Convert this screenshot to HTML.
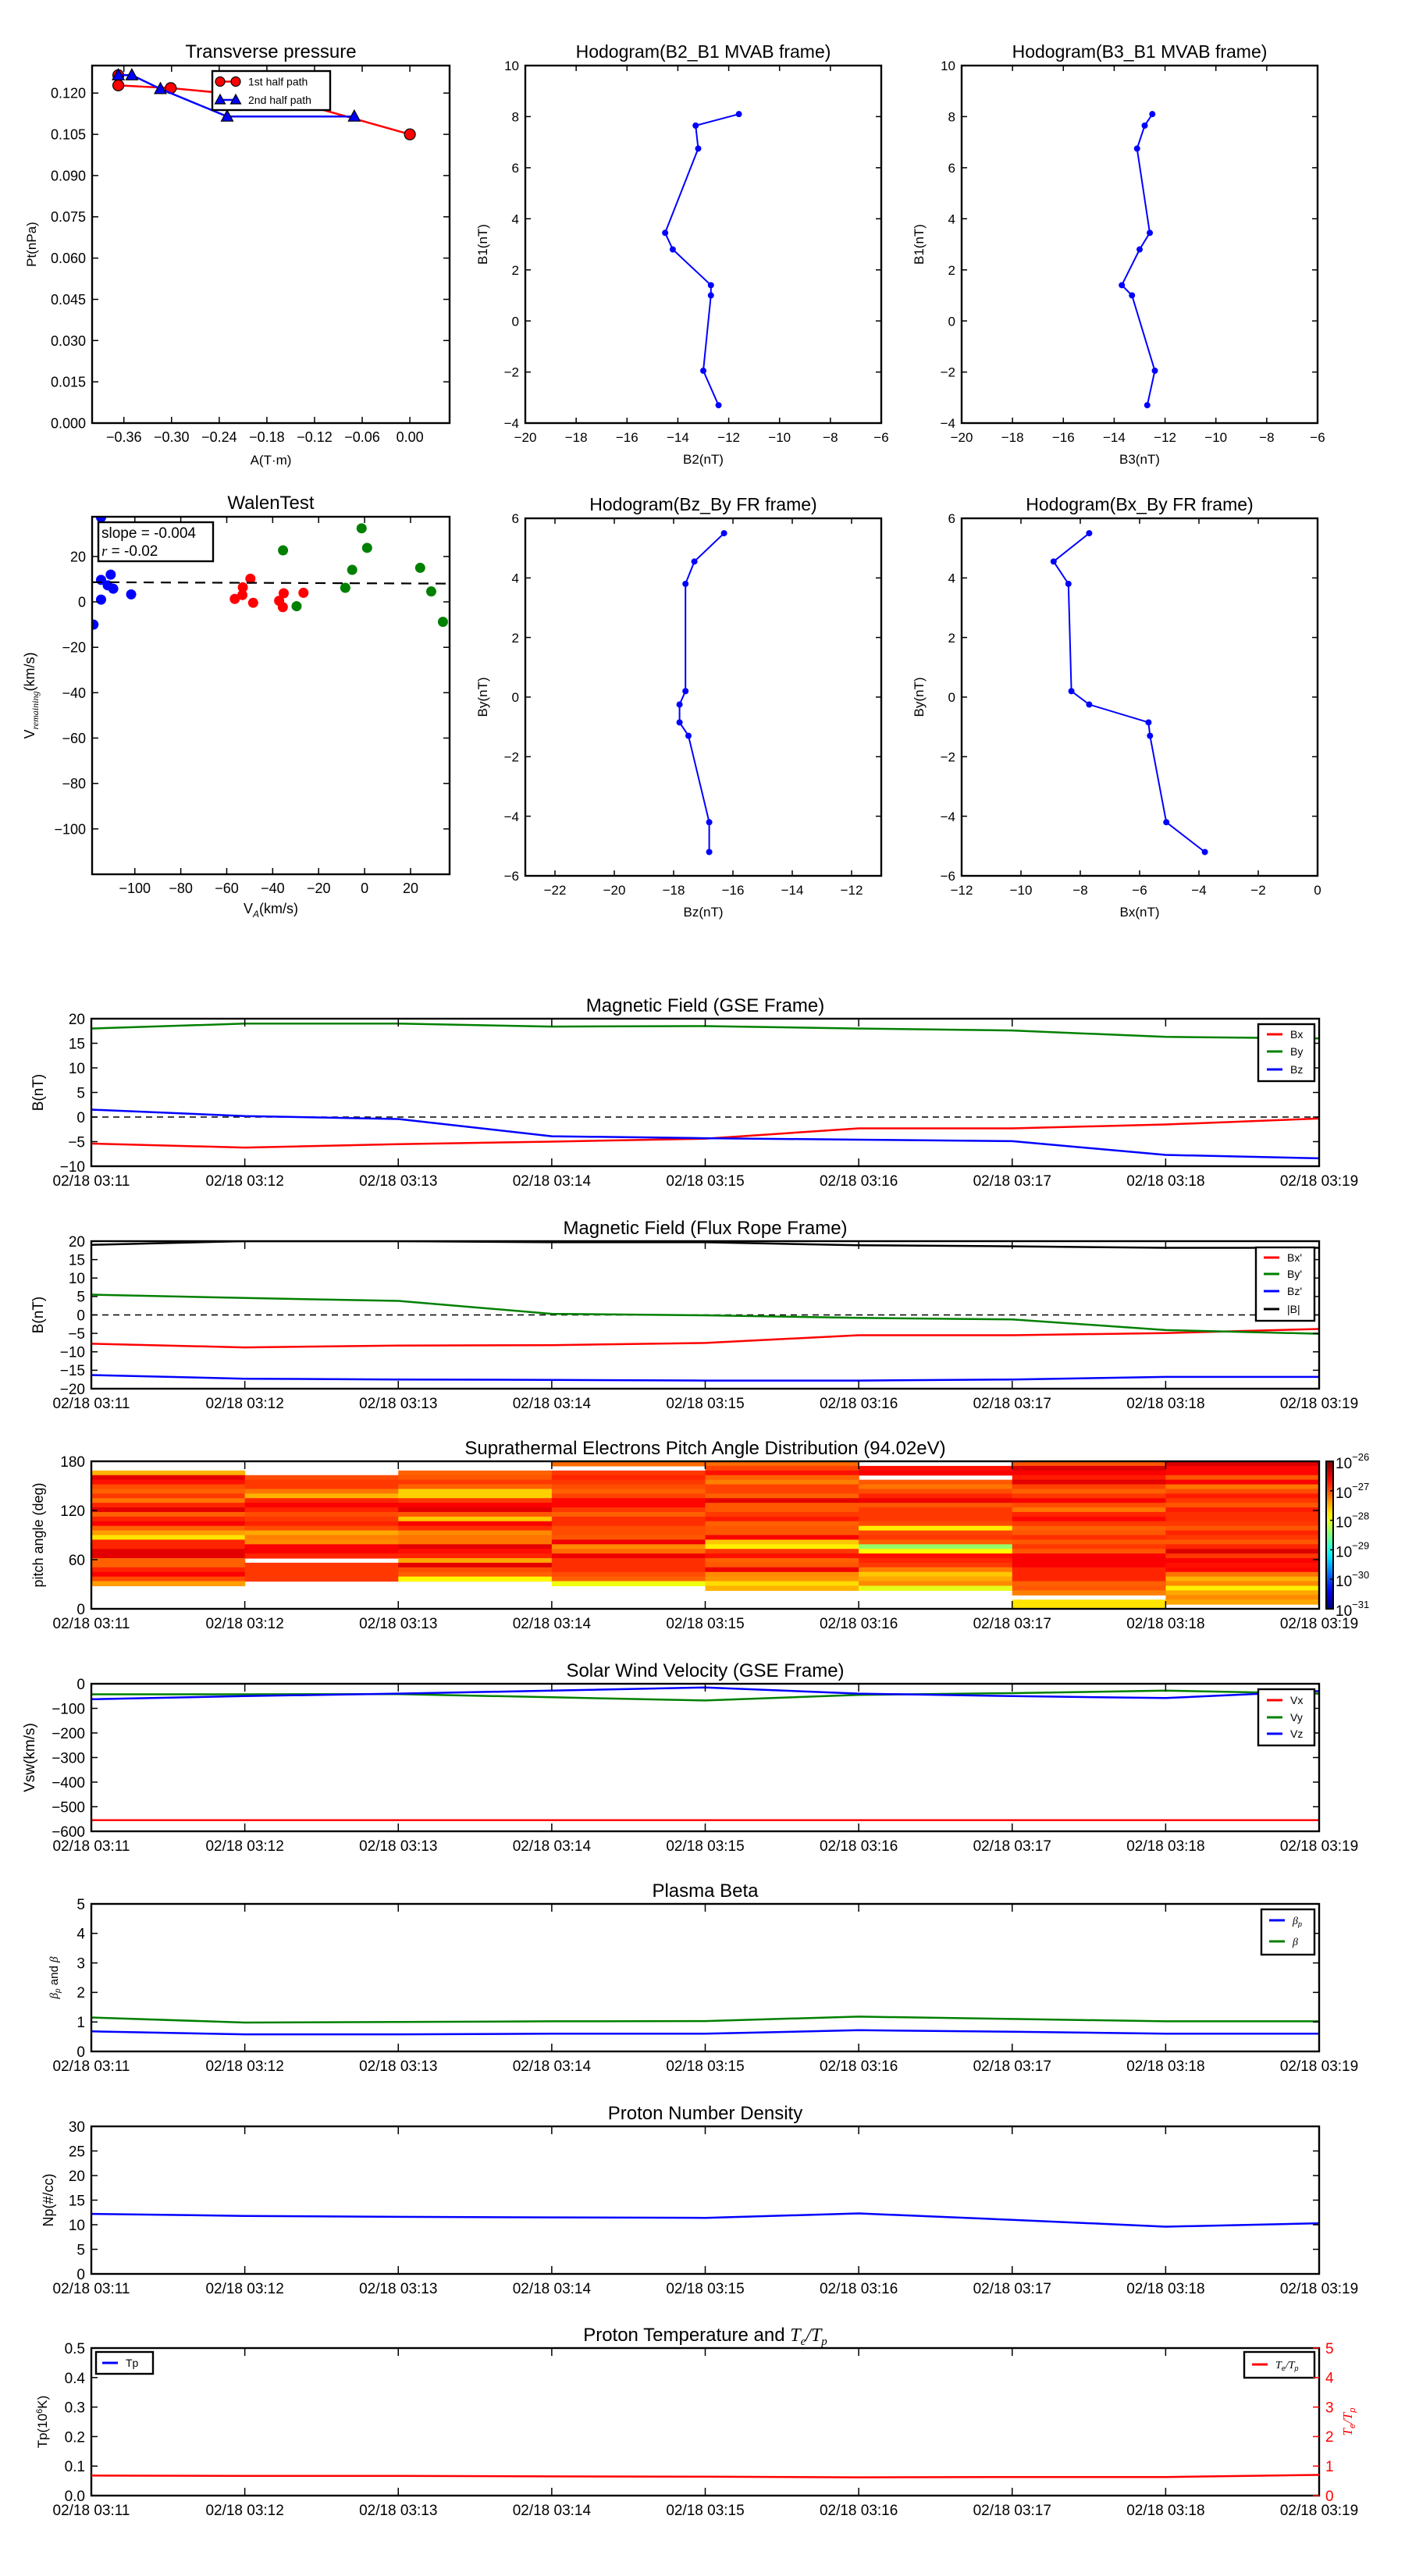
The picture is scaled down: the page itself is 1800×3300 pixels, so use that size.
<!DOCTYPE html>
<html><head><meta charset="utf-8"><title>Flux rope analysis</title>
<style>
html,body{margin:0;padding:0;background:#fff;}
svg{display:block;font-family:"Liberation Sans","DejaVu Sans",sans-serif;}
</style></head>
<body>
<svg id="fig" xmlns="http://www.w3.org/2000/svg" width="1800" height="3300" viewBox="0 0 1800 3300">
<rect x="0" y="0" width="1800" height="3300" fill="#fff"/>
</svg>
<script>
// ---------------- data ----------------
const ptRedA=[-0.367,-0.367,-0.301,-0.16,0.0];
const ptRedP=[0.1265,0.1228,0.1218,0.118,0.105];
const ptBlueA=[-0.367,-0.350,-0.314,-0.230,-0.070];
const ptBlueP=[0.1265,0.1265,0.1215,0.1115,0.1115];
const ptXTicks=[-0.36,-0.30,-0.24,-0.18,-0.12,-0.06,0.00];
const ptYTicks=[0,0.015,0.030,0.045,0.060,0.075,0.090,0.105,0.120];

const hB2=[-11.6,-13.3,-13.2,-14.5,-14.2,-12.7,-12.7,-13.0,-12.4];
const hB1=[8.1,7.65,6.75,3.45,2.8,1.4,1.0,-1.95,-3.3];
const hB3=[-12.5,-12.8,-13.1,-12.6,-13.0,-13.7,-13.3,-12.4,-12.7];
const hBz=[-16.3,-17.3,-17.6,-17.6,-17.8,-17.8,-17.5,-16.8,-16.8];
const hBy=[5.5,4.55,3.8,0.2,-0.25,-0.85,-1.3,-4.2,-5.2];
const hBx=[-7.7,-8.9,-8.4,-8.3,-7.7,-5.7,-5.65,-5.1,-3.8];

const walenBlueX=[-114.7,-114.7,-110.5,-111.8,-109.4,-114.7,-118.0,-101.6];
const walenBlueY=[37.2,9.7,12.0,7.3,5.8,1.0,-10.0,3.3];
const walenRedX=[-56.5,-53.2,-53.0,-49.7,-48.5,-37.2,-35.2,-35.6,-26.6];
const walenRedY=[1.3,3.0,6.4,10.2,-0.4,0.5,3.8,-2.3,4.0];
const walenGreenX=[-35.5,-29.6,-8.4,-5.4,-1.3,1.1,24.2,29.0,34.1];
const walenGreenY=[22.7,-1.9,6.2,14.1,32.4,23.8,15.0,4.6,-8.8];
const walenSlope=-0.004;
const walenIntercept=8.2;

const timeLabels=['02/18 03:11','02/18 03:12','02/18 03:13','02/18 03:14','02/18 03:15','02/18 03:16','02/18 03:17','02/18 03:18','02/18 03:19'];
const gseBx=[-5.4,-6.2,-5.5,-5.0,-4.4,-2.3,-2.3,-1.5,-0.3];
const gseBy=[18.0,19.0,19.0,18.4,18.5,18.0,17.6,16.3,16.0];
const gseBz=[1.5,0.2,-0.4,-3.9,-4.3,-4.6,-4.9,-7.7,-8.4];
const frBx=[-7.8,-8.8,-8.3,-8.2,-7.6,-5.5,-5.5,-4.9,-3.8];
const frBy=[5.5,4.6,3.8,0.3,-0.1,-0.8,-1.2,-4.1,-5.1];
const frBz=[-16.3,-17.3,-17.5,-17.6,-17.8,-17.8,-17.5,-16.8,-16.8];
const frBt=[19.0,20.0,20.0,19.7,19.7,18.9,18.6,18.2,18.2];
const vx=[-555,-555,-555,-555,-555,-555,-555,-555,-555];
const vy=[-43,-43,-42,-55,-68,-45,-38,-28,-40];
const vz=[-63,-50,-40,-28,-15,-40,-50,-58,-30];
const betaP=[0.68,0.58,0.58,0.60,0.60,0.72,0.67,0.60,0.60];
const betaT=[1.15,0.98,1.00,1.02,1.03,1.18,1.10,1.02,1.02];
const np=[12.2,11.8,11.6,11.5,11.4,12.3,11.0,9.6,10.3];
const teTp=[0.68,0.67,0.67,0.65,0.64,0.62,0.63,0.63,0.70];

// pitch angle distribution, log10 values, each column top (180deg) -> bottom (0deg), 32 bins; null = no data
const padCol1=[null,null,-27.5,-26.5,-26.7,-27,-27.1,-26.9,-27.2,-26.8,-26.5,-27.1,-26.8,-26.6,-27.1,-27.4,-27.75,-26.8,-26.8,-26.5,-26.5,-27.1,-27.1,-26.8,-26.6,-27,-27.4,null,null,null,null,null];
const padCol2=[null,null,null,-27,-26.9,-26.9,-27.2,-27.5,-26.8,-26.6,-26.8,-27,-26.9,-26.8,-27,-27.45,-27.25,-27.3,-26.6,-26.6,-26.8,null,-26.9,-26.9,-26.9,-26.9,null,null,null,null,null,null];
const padCol3=[null,null,-27.1,-27.05,-26.9,-27.1,-27.65,-27.65,-26.9,-26.6,-26.5,-27.05,-27.6,-26.6,-26.85,-27.3,-27.2,-27.2,-26.5,-26.7,-26.8,-27.45,-26.5,-27,-27.1,-27.85,null,null,null,null,null,null];
const padCol4=[-27.15,null,-26.9,-26.8,-26.9,-27,-27.1,-26.95,-26.65,-26.65,-26.9,-27.1,-26.85,-26.85,-27,-27,-27.05,-26.55,-27.3,-27.15,-26.55,-26.85,-26.85,-26.85,-27,-27.1,-27.95,null,null,null,null,null];
const padCol5=[-27.15,-26.95,-26.7,-27.1,-27.25,-26.95,-26.95,-27.1,-26.5,-27.05,-27.05,-26.9,-26.75,-27.1,-27.05,-27.05,-26.6,-27.6,-27.8,-26.9,-26.7,-27.1,-27.05,-26.55,-27.3,-27.35,-27.7,-27.5,null,null,null,null];
const padCol6=[null,-26.7,-26.6,null,-27.05,-27.2,-27,-26.8,-26.55,-27.05,-26.9,-26.9,-26.9,-27,-27.8,-26.95,-26.9,-27.1,-28.4,-27.85,-26.7,-26.8,-26.9,-27.25,-27.6,-27.45,-27.3,-28.0,null,null,null,null];
const padCol7=[-27.05,-26.45,-26.6,-26.75,-26.5,-26.95,-27.1,-26.9,-26.6,-27,-27.2,-26.8,-26.65,-26.9,-27.1,-27.05,-26.85,-27.05,-26.9,-27.05,-26.6,-26.6,-26.6,-26.8,-26.8,-26.8,-27.1,-27.05,-27.25,null,-27.75,-27.75];
const padCol8=[-26.45,-26.65,-26.65,-27.05,-26.6,-27.2,-27,-26.75,-26.9,-27.05,-26.75,-26.85,-26.85,-26.9,-27.05,-26.8,-26.9,-27.05,-26.8,-26.45,-26.9,-26.6,-26.7,-26.65,-27.2,-27.5,-27.3,-27.8,-27.45,-27.3,-27.45,null];
const padCbarTicks=[-26,-27,-28,-29,-30,-31];

// ---------------- helpers ----------------
const NS='http://www.w3.org/2000/svg';
const svg=document.getElementById('fig');
let clipN=0;
function E(tag,attrs,parent){
  const e=document.createElementNS(NS,tag);
  for(const k in attrs) e.setAttribute(k,attrs[k]);
  (parent||svg).appendChild(e);
  return e;
}
function T(x,y,str,size,anchor,parent,fill){
  const t=E('text',{x:x,y:y,'font-size':size,'text-anchor':anchor||'middle',fill:fill||'#000'},parent);
  t.textContent=str;
  return t;
}
function fmtMinus(s){return String(s).replace('-','\u2212');}

function makeAxes(name,box,xr,yr){
  const g=E('g',{});
  
  
  const sx=v=>box.x+(v-xr[0])/(xr[1]-xr[0])*box.w;
  const sy=v=>box.y+box.h-(v-yr[0])/(yr[1]-yr[0])*box.h;
  const id='clip'+(clipN++);
  const cp=E('clipPath',{id:id},g);
  E('rect',{x:box.x,y:box.y,width:box.w,height:box.h},cp);
  const plot=E('g',{'clip-path':'url(#'+id+')'},g);
  
  
  return {g,plot,sx,sy,box};
}
function frame(ax){
  const r=E('rect',{x:ax.box.x,y:ax.box.y,width:ax.box.w,height:ax.box.h,fill:'none',stroke:'#000','stroke-width':2.4},ax.g);
  
  
}
function xTicks(ax,vals,labels,size,off,len){
  const b=ax.box;
  vals.forEach((v,i)=>{
    const x=ax.sx(v);
    const tk=E('path',{d:`M${x},${b.y+b.h}v${-len}M${x},${b.y}v${len}`,stroke:'#000','stroke-width':1.5},ax.g);
    
    
    const t=T(x,b.y+b.h+off,labels[i],size,'middle',ax.g);
    
    
  });
}
function yTicks(ax,vals,labels,size,len,right,color){
  const b=ax.box;
  vals.forEach((v,i)=>{
    const y=ax.sy(v);
    const d=right?`M${b.x+b.w},${y}h${-len}`:`M${b.x},${y}h${len}M${b.x+b.w},${y}h${-len}`;
    const tk=E('path',{d:d,stroke:color||'#000','stroke-width':1.5},ax.g);
    
    
    const t=right?T(b.x+b.w+8,y+size*0.36,labels[i],size,'start',ax.g,color):T(b.x-8,y+size*0.36,labels[i],size,'end',ax.g);
    
    
  });
}
function title(ax,str,size,off){
  const t=T(ax.box.x+ax.box.w/2,ax.box.y-off,str,size,'middle',ax.g);
  
  
  return t;
}
function yLabel(ax,x,str,size,fill){
  const cy=ax.box.y+ax.box.h/2;
  const t=E('text',{x:x,y:cy,'font-size':size,'text-anchor':'middle',fill:fill||'#000',transform:`rotate(-90 ${x} ${cy})`},ax.g);
  t.textContent=str;
  
  
  return t;
}
function xLabel(ax,y,str,size){
  const t=T(ax.box.x+ax.box.w/2,y,str,size,'middle',ax.g);
  
  
  return t;
}
function line(ax,xs,ys,color,w,nm){
  const pts=xs.map((x,i)=>ax.sx(x).toFixed(1)+','+ax.sy(ys[i]).toFixed(1)).join(' ');
  const p=E('polyline',{points:pts,fill:'none',stroke:color,'stroke-width':w,'stroke-linejoin':'round'},ax.plot);
  
  
  return p;
}
function dots(ax,xs,ys,color,r,nm,stroke){
  xs.forEach((x,i)=>{
    const c=E('circle',{cx:ax.sx(x),cy:ax.sy(ys[i]),r:r,fill:color,stroke:stroke||'none','stroke-width':1.2},ax.plot);
    
    
  });
}
function legendBox(parent,x,y,w,h,nm){
  const r=E('rect',{x:x,y:y,width:w,height:h,fill:'#fff',stroke:'#000','stroke-width':2.4},parent);
  
  
}
function legendEntry(parent,x,y,color,label,size){
  const l=E('line',{x1:x,y1:y,x2:x+20,y2:y,stroke:color,'stroke-width':3},parent);
  
  
  const t=T(x+30,y+size*0.36,label,size,'start',parent);
  
  
  return t;
}
function zeroLine(ax,x0,x1){
  const l=E('line',{x1:ax.sx(x0),y1:ax.sy(0),x2:ax.sx(x1),y2:ax.sy(0),stroke:'#000','stroke-width':1.5,'stroke-dasharray':'8,6'},ax.plot);
  
  
}

// ---------------- Transverse pressure ----------------
(function(){
  const ax=makeAxes('transverse-pressure-chart',{x:118,y:84,w:458,h:458},[-0.40,0.05],[0,0.13]);
  line(ax,ptRedA,ptRedP,'#f00',2.5,'first-half-path-line');
  dots(ax,ptRedA,ptRedP,'#f00',7,'first-half-path-marker','#000');
  line(ax,ptBlueA,ptBlueP,'#00f',2.5,'second-half-path-line');
  ptBlueA.forEach((a,i)=>{
    const x=ax.sx(a),y=ax.sy(ptBlueP[i]);
    const tr=E('polygon',{points:`${x},${y-8} ${x-7.5},${y+6} ${x+7.5},${y+6}`,fill:'#00f',stroke:'#000','stroke-width':1.2},ax.plot);
    
    
  });
  xTicks(ax,ptXTicks,ptXTicks.map(v=>fmtMinus(v.toFixed(2))),18,24,8);
  yTicks(ax,ptYTicks,ptYTicks.map(v=>v.toFixed(3)),18,8);
  frame(ax);
  title(ax,'Transverse pressure',24,10);
  yLabel(ax,46,'Pt(nPa)',17);
  xLabel(ax,595,'A(T\u00b7m)',17);
  const lg=E('g',{},ax.g);
  
  
  legendBox(lg,272,91,151,50,'legend-box');
  const l1=E('line',{x1:282,y1:104.5,x2:302,y2:104.5,stroke:'#f00','stroke-width':2.5},lg);
  
  
  [282,302].forEach(cx=>{const c=E('circle',{cx:cx,cy:104.5,r:6,fill:'#f00',stroke:'#000','stroke-width':1.2},lg);
    
    });
  const t1=T(318,109.5,'1st half path',14,'start',lg);
  
  
  const l2=E('line',{x1:282,y1:128,x2:302,y2:128,stroke:'#00f','stroke-width':2.5},lg);
  
  
  [282,302].forEach(cx=>{const p=E('polygon',{points:`${cx},${121} ${cx-6.5},${133} ${cx+6.5},${133}`,fill:'#00f',stroke:'#000','stroke-width':1.2},lg);
    
    });
  const t2=T(318,133,'2nd half path',14,'start',lg);
  
  
})();

// ---------------- Hodograms ----------------
function hodogram(name,box,xr,yr,xs,ys,xt,yt,ttl,xl,yl,ylx){
  const ax=makeAxes(name,box,xr,yr);
  line(ax,xs,ys,'#00f',2,'hodogram-path');
  dots(ax,xs,ys,'#00f',4,'hodogram-point');
  xTicks(ax,xt,xt.map(v=>fmtMinus(v)),17,24,7);
  yTicks(ax,yt,yt.map(v=>fmtMinus(v)),17,7);
  frame(ax);
  title(ax,ttl,23,10);
  xLabel(ax,box.y+box.h+52,xl,17);
  yLabel(ax,ylx,yl,17);
}
const hodoX1=[-20,-18,-16,-14,-12,-10,-8,-6];
const hodoY1=[-4,-2,0,2,4,6,8,10];
const hodoX2=[-22,-20,-18,-16,-14,-12];
const hodoX3=[-12,-10,-8,-6,-4,-2,0];
const hodoY2=[-6,-4,-2,0,2,4,6];
hodogram('hodogram-b2-b1',{x:673,y:84,w:456,h:458},[-20,-6],[-4,10],hB2,hB1,hodoX1,hodoY1,'Hodogram(B2_B1 MVAB frame)','B2(nT)','B1(nT)',624);
hodogram('hodogram-b3-b1',{x:1232,y:84,w:456,h:458},[-20,-6],[-4,10],hB3,hB1,hodoX1,hodoY1,'Hodogram(B3_B1 MVAB frame)','B3(nT)','B1(nT)',1183);
hodogram('hodogram-bz-by',{x:673,y:664,w:456,h:458},[-23,-11],[-6,6],hBz,hBy,hodoX2,hodoY2,'Hodogram(Bz_By FR frame)','Bz(nT)','By(nT)',624);
hodogram('hodogram-bx-by',{x:1232,y:664,w:456,h:458},[-12,0],[-6,6],hBx,hBy,hodoX3,hodoY2,'Hodogram(Bx_By FR frame)','Bx(nT)','By(nT)',1183);

// ---------------- Walen test ----------------
(function(){
  const ax=makeAxes('walen-test-chart',{x:118,y:662,w:458,h:458},[-118.6,37],[-120,37.5]);
  dots(ax,walenBlueX,walenBlueY,'#00f',6.5,'walen-point-blue');
  dots(ax,walenRedX,walenRedY,'#f00',6.5,'walen-point-red');
  dots(ax,walenGreenX,walenGreenY,'#008000',6.5,'walen-point-green');
  const fx=[-118.6,37];
  const fl=E('line',{x1:ax.sx(fx[0]),y1:ax.sy(walenIntercept+walenSlope*fx[0]),x2:ax.sx(fx[1]),y2:ax.sy(walenIntercept+walenSlope*fx[1]),stroke:'#000','stroke-width':2.2,'stroke-dasharray':'13,9'},ax.plot);
  
  
  const wx=[-100,-80,-60,-40,-20,0,20];
  const wy=[-100,-80,-60,-40,-20,0,20];
  xTicks(ax,wx,wx.map(v=>fmtMinus(v)),18,24,8);
  yTicks(ax,wy,wy.map(v=>fmtMinus(v)),18,8);
  frame(ax);
  title(ax,'WalenTest',24,10);
  const yl=yLabel(ax,44,'',18);
  yl.innerHTML='V<tspan font-size="12" font-style="italic" font-family="Liberation Serif" dy="5">remaining</tspan><tspan dy="-5">(km/s)</tspan>';
  const xl=xLabel(ax,1170,'',18);
  xl.innerHTML='V<tspan font-size="12" font-style="italic" dy="5">A</tspan><tspan dy="-5">(km/s)</tspan>';
  const bx=E('g',{},ax.g);
  
  
  legendBox(bx,126,669,147,50,'walen-stats-frame');
  const s1=T(130,689,'slope = -0.004',19,'start',bx);
  
  
  const s2=T(130,712,'',19,'start',bx);
  s2.innerHTML='<tspan font-style="italic" font-family="Liberation Serif">r</tspan> = -0.02';
  
  
})();

// ---------------- time series panels ----------------
const TX=117, TW=1573, TH=189;
const tIdx=timeLabels.map((_,i)=>i);
function tsAxes(name,top,yr,ttl,yt,ytl){
  const ax=makeAxes(name,{x:TX,y:top,w:TW,h:TH},[0,8],yr);
  return ax;
}
function tsFinish(ax,ttl,yt,ytl,noRightTicks){
  xTicks(ax,tIdx,timeLabels,19,25,10);
  yTicks(ax,yt,ytl,19,8,false);
  frame(ax);
  return title(ax,ttl,24,9);
}

// GSE magnetic field
(function(){
  const ax=tsAxes('magnetic-field-gse-chart',1305,[-10,20]);
  zeroLine(ax,0,8);
  line(ax,tIdx,gseBx,'#f00',2.5,'series-bx');
  line(ax,tIdx,gseBy,'#008000',2.5,'series-by');
  line(ax,tIdx,gseBz,'#00f',2.5,'series-bz');
  const yt=[-10,-5,0,5,10,15,20];
  tsFinish(ax,'Magnetic Field (GSE Frame)',yt,yt.map(v=>fmtMinus(v)));
  yLabel(ax,55,'B(nT)',19);
  const lg=E('g',{},ax.g);
  
  
  legendBox(lg,1612,1312,72,73,'legend-box');
  legendEntry(lg,1623,1325,'#f00','Bx',14);
  legendEntry(lg,1623,1347,'#008000','By',14);
  legendEntry(lg,1623,1370,'#00f','Bz',14);
})();

// Flux rope magnetic field
(function(){
  const ax=tsAxes('magnetic-field-flux-rope-chart',1590,[-20,20]);
  zeroLine(ax,0,8);
  line(ax,tIdx,frBx,'#f00',2.5,'series-bx-prime');
  line(ax,tIdx,frBy,'#008000',2.5,'series-by-prime');
  line(ax,tIdx,frBz,'#00f',2.5,'series-bz-prime');
  line(ax,tIdx,frBt,'#000',2.5,'series-b-total');
  const yt=[-20,-15,-10,-5,0,5,10,15,20];
  tsFinish(ax,'Magnetic Field (Flux Rope Frame)',yt,yt.map(v=>fmtMinus(v)));
  yLabel(ax,55,'B(nT)',19);
  const lg=E('g',{},ax.g);
  
  
  legendBox(lg,1609,1598,75,94,'legend-box');
  legendEntry(lg,1619,1611,'#f00',"Bx'",14);
  legendEntry(lg,1619,1632,'#008000',"By'",14);
  legendEntry(lg,1619,1654,'#00f',"Bz'",14);
  legendEntry(lg,1619,1677,'#000','|B|',14);
})();

// Pitch angle distribution
function jet(v){
  const t=Math.max(0,Math.min(1,(v+31)/5));
  const c=f=>Math.round(255*Math.max(0,Math.min(1,f)));
  return `rgb(${c(1.5-Math.abs(4*t-3))},${c(1.5-Math.abs(4*t-2))},${c(1.5-Math.abs(4*t-1))})`;
}
(function(){
  const ax=tsAxes('pitch-angle-distribution-chart',1872,[0,180]);
  const cols=[padCol1,padCol2,padCol3,padCol4,padCol5,padCol6,padCol7,padCol8];
  const nb=32, bw=180/nb;
  cols.forEach((col,ci)=>{
    col.forEach((v,ri)=>{
      if(v===null||v===undefined) return;
      const top=180-ri*bw;
      const x0=ax.sx(ci),x1=ax.sx(ci+1),y0=ax.sy(top),y1=ax.sy(top-bw);
      const r=E('rect',{x:x0.toFixed(2),y:y0.toFixed(2),width:(x1-x0+0.6).toFixed(2),height:(y1-y0+0.6).toFixed(2),fill:jet(v)},ax.plot);
      
      
    });
  });
  const yt=[0,60,120,180];
  tsFinish(ax,'Suprathermal Electrons Pitch Angle Distribution (94.02eV)',yt,yt.map(String));
  yLabel(ax,55,'pitch angle (deg)',18);
  // colorbar
  const defs=E('defs',{},ax.g);
  const lgd=E('linearGradient',{id:'jetgrad',x1:0,y1:1,x2:0,y2:0},defs);
  for(let i=0;i<=20;i++){const v=-31+5*i/20;E('stop',{offset:(i/20),'stop-color':jet(v)},lgd);}
  const cb=E('g',{},ax.g);
  
  
  const cx=1699,cw=9,cy=1872,ch=189;
  const cr=E('rect',{x:cx,y:cy,width:cw,height:ch,fill:'url(#jetgrad)',stroke:'#000','stroke-width':2},cb);
  
  
  padCbarTicks.forEach(v=>{
    const y=cy+(-26-v)/5*ch;
    const tk=E('line',{x1:cx+cw-4,y1:y,x2:cx+cw,y2:y,stroke:'#000','stroke-width':1.5},cb);
    
    
    const t=T(cx+cw+3,y+9,'',19,'start',cb);
    t.innerHTML='10<tspan font-size="13" dy="-10">'+fmtMinus(v)+'</tspan>';
    
    
  });
})();

// Solar wind velocity
(function(){
  const ax=tsAxes('solar-wind-velocity-chart',2157,[-600,0]);
  line(ax,tIdx,vx,'#f00',2.5,'series-vx');
  line(ax,tIdx,vy,'#008000',2.5,'series-vy');
  line(ax,tIdx,vz,'#00f',2.5,'series-vz');
  const yt=[-600,-500,-400,-300,-200,-100,0];
  tsFinish(ax,'Solar Wind Velocity (GSE Frame)',yt,yt.map(v=>fmtMinus(v)));
  yLabel(ax,44,'Vsw(km/s)',19);
  const lg=E('g',{},ax.g);
  
  
  legendBox(lg,1612,2164,72,72,'legend-box');
  legendEntry(lg,1623,2178,'#f00','Vx',14);
  legendEntry(lg,1623,2200,'#008000','Vy',14);
  legendEntry(lg,1623,2221,'#00f','Vz',14);
})();

// Plasma beta
(function(){
  const ax=tsAxes('plasma-beta-chart',2439,[0,5]);
  line(ax,tIdx,betaP,'#00f',2.5,'series-beta-p');
  line(ax,tIdx,betaT,'#008000',2.5,'series-beta');
  const yt=[0,1,2,3,4,5];
  tsFinish(ax,'Plasma Beta',yt,yt.map(String));
  const yl=yLabel(ax,74,'',15);
  yl.innerHTML='<tspan font-style="italic" font-family="Liberation Serif">β</tspan><tspan font-size="10" font-style="italic" dy="3">p</tspan><tspan dy="-3"> and </tspan><tspan font-style="italic" font-family="Liberation Serif">β</tspan>';
  const lg=E('g',{},ax.g);
  
  
  legendBox(lg,1616,2446,68,58,'legend-box');
  const a=legendEntry(lg,1626,2460,'#00f','',14);
  a.innerHTML='<tspan font-style="italic" font-family="Liberation Serif">β</tspan><tspan font-size="9" font-style="italic" dy="3">p</tspan>';
  const b=legendEntry(lg,1626,2487,'#008000','',14);
  b.innerHTML='<tspan font-style="italic" font-family="Liberation Serif">β</tspan>';
})();

// Proton number density
(function(){
  const ax=tsAxes('proton-density-chart',2724,[0,30]);
  line(ax,tIdx,np,'#00f',2.5,'series-np');
  const yt=[0,5,10,15,20,25,30];
  tsFinish(ax,'Proton Number Density',yt,yt.map(String));
  yLabel(ax,68,'Np(#/cc)',18);
})();

// Proton temperature and Te/Tp
(function(){
  const ax=tsAxes('proton-temperature-chart',3008,[0,0.5]);
  const axR=makeAxes('te-tp-axis',{x:TX,y:3008,w:TW,h:TH},[0,8],[0,5]);
  line(axR,tIdx,teTp,'#f00',2.5,'series-te-tp');
  xTicks(ax,tIdx,timeLabels,19,25,10);
  const yt=[0,0.1,0.2,0.3,0.4,0.5];
  const b=ax.box;
  yt.forEach(v=>{
    const y=ax.sy(v);
    const tk=E('path',{d:`M${b.x},${y}h8`,stroke:'#000','stroke-width':1.5},ax.g);
    
    
    const t=T(b.x-8,y+7,v.toFixed(1),19,'end',ax.g);
    
    
  });
  const ytr=[0,1,2,3,4,5];
  yTicks(axR,ytr,ytr.map(String),19,8,true,'#f00');
  frame(ax);
  const tt=title(ax,'',24,9);
  tt.innerHTML='Proton Temperature and <tspan font-style="italic" font-family="Liberation Serif">T</tspan><tspan font-size="15" font-style="italic" font-family="Liberation Serif" dy="5">e</tspan><tspan font-style="italic" font-family="Liberation Serif" dy="-5">/T</tspan><tspan font-size="15" font-style="italic" font-family="Liberation Serif" dy="5">p</tspan>';
  const yl=yLabel(ax,60,'',17);
  yl.innerHTML='Tp(10<tspan font-size="11" dy="-6">6</tspan><tspan dy="6">K)</tspan>';
  const yr=yLabel(axR,1732,'',17,'#f00');
  yr.innerHTML='<tspan font-style="italic" font-family="Liberation Serif">T</tspan><tspan font-size="11" font-style="italic" dy="4">e</tspan><tspan font-style="italic" font-family="Liberation Serif" dy="-4">/T</tspan><tspan font-size="11" font-style="italic" dy="4">p</tspan>';
  const lg=E('g',{},ax.g);
  
  
  legendBox(lg,123,3013,73,28,'legend-box');
  legendEntry(lg,131,3027,'#00f','Tp',14);
  const lg2=E('g',{},ax.g);
  
  
  legendBox(lg2,1594,3013,90,33,'legend-box');
  const le=legendEntry(lg2,1604,3029,'#f00','',14);
  le.innerHTML='<tspan font-style="italic" font-family="Liberation Serif">T</tspan><tspan font-size="9" font-style="italic" dy="3">e</tspan><tspan font-style="italic" font-family="Liberation Serif" dy="-3">/T</tspan><tspan font-size="9" font-style="italic" dy="3">p</tspan>';
})();
</script>
</body></html>
